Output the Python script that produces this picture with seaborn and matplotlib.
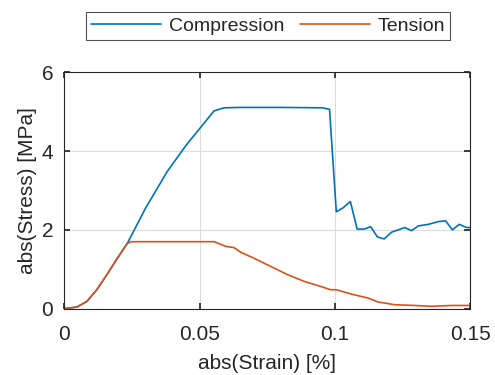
import numpy as np
import pandas as pd
import matplotlib
matplotlib.use("Agg")
import matplotlib.pyplot as plt
import seaborn as sns

# data
comp_strain = [0, 0.0046, 0.0083, 0.012, 0.0157, 0.0195, 0.0232, 0.030, 0.038, 0.045, 0.0553,
               0.059, 0.065, 0.080, 0.0955, 0.098, 0.1005, 0.103, 0.1057, 0.1082, 0.1108,
               0.1132, 0.1157, 0.1182, 0.1209, 0.1258, 0.1283, 0.1308, 0.1345, 0.1382,
               0.1409, 0.1434, 0.1459, 0.1487, 0.15]
comp_stress = [0, 0.04, 0.18, 0.48, 0.86, 1.27, 1.65, 2.55, 3.48, 4.15, 5.02,
               5.1, 5.11, 5.11, 5.1, 5.06, 2.46, 2.56, 2.72, 2.02, 2.02,
               2.08, 1.82, 1.77, 1.94, 2.06, 1.98, 2.1, 2.14, 2.21,
               2.23, 2.0, 2.14, 2.06, 2.06]

tens_strain = [0, 0.0046, 0.0083, 0.012, 0.0157, 0.0195, 0.0232, 0.0246, 0.0553, 0.0597,
               0.0627, 0.0652, 0.0701, 0.0763, 0.0826, 0.0887, 0.0949, 0.0984, 0.1005,
               0.106, 0.1122, 0.1159, 0.122, 0.1295, 0.1357, 0.1432, 0.15]
tens_stress = [0, 0.04, 0.18, 0.48, 0.86, 1.27, 1.65, 1.70, 1.70, 1.58,
               1.55, 1.43, 1.28, 1.07, 0.86, 0.69, 0.56, 0.48, 0.48,
               0.37, 0.27, 0.17, 0.10, 0.08, 0.06, 0.08, 0.08]

df = pd.concat([
    pd.DataFrame({"strain": comp_strain, "stress": comp_stress, "load": "Compression"}),
    pd.DataFrame({"strain": tens_strain, "stress": tens_stress, "load": "Tension"}),
])

sns.set_theme(style="whitegrid")
plt.rcParams["font.family"] = ["Liberation Sans", "DejaVu Sans"]

fig = plt.figure(figsize=(4.95, 3.75), dpi=100)
ax = fig.add_axes([0.130, 0.177, 0.820, 0.630])

sns.lineplot(data=df, x="strain", y="stress", hue="load", sort=False,
             palette=["#0072BD", "#D95319"], linewidth=1.2, ax=ax, legend=False)

ax.set_xlim(0, 0.15)
ax.set_ylim(0, 6)
ax.set_xticks([0, 0.05, 0.1, 0.15])
ax.set_xticklabels(["0", "0.05", "0.1", "0.15"])
ax.set_yticks([0, 2, 4, 6])
ax.set_xlabel("abs(Strain) [%]", fontsize=15, color="#262626", labelpad=7)
ax.set_ylabel("abs(Stress) [MPa]", fontsize=15, color="#262626", labelpad=3)
ax.tick_params(labelsize=15, colors="#262626", direction="in", length=4,
               top=True, right=True, bottom=True, left=True)
ax.tick_params(axis="x", pad=12)
ax.tick_params(axis="y", pad=8)
ax.grid(True, color="#dcdcdc", linewidth=0.8)
for s in ax.spines.values():
    s.set_visible(True)
    s.set_color("#262626")
    s.set_linewidth(0.8)

handles = [plt.Line2D([], [], color="#0072BD", lw=1.2),
           plt.Line2D([], [], color="#D95319", lw=1.2)]
leg = fig.legend(handles, ["Compression", "Tension"], ncol=2, loc="center",
                 bbox_to_anchor=(0.542, 0.931), fontsize=14, frameon=True,
                 fancybox=False, edgecolor="#262626", handlelength=3.6,
                 columnspacing=0.8, handletextpad=0.4, borderpad=0.25)
leg.get_frame().set_linewidth(0.8)
for t in leg.get_texts():
    t.set_color("#262626")

fig.savefig("out.png", dpi=100)
